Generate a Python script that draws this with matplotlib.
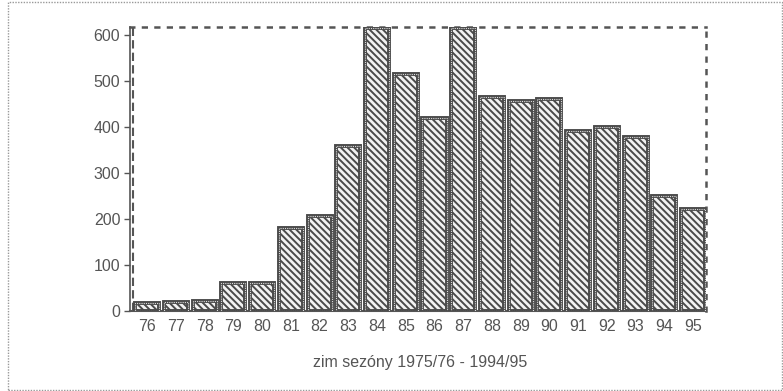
import matplotlib
matplotlib.use("Agg")
import matplotlib.pyplot as plt
from matplotlib.patches import Rectangle

plt.rcParams['font.family'] = ['Liberation Sans', 'DejaVu Sans']
plt.rcParams['hatch.linewidth'] = 1.4
plt.rcParams['hatch.color'] = '#4a4a4a'

years = ['76', '77', '78', '79', '80', '81', '82', '83', '84', '85',
         '86', '87', '88', '89', '90', '91', '92', '93', '94', '95']
values = [18, 20, 22, 60, 60, 180, 207, 360, 615, 515,
          420, 615, 465, 458, 462, 392, 400, 378, 250, 222]
yticks = [0, 100, 200, 300, 400, 500, 600]
xlabel = 'zim sezóny 1975/76 - 1994/95'

grey = '#555555'

fig = plt.figure(figsize=(7.83, 3.91), dpi=100)
ax = fig.add_axes([130/783, 1 - 311/391, 576/783, 284/391])

x = range(len(years))
ax.bar(x, values, width=0.84, color='#f2f2f2', edgecolor='#4a4a4a',
       linewidth=2.8, hatch='\\\\\\\\\\', zorder=3)
ax.bar(x, values, width=0.84, color='none', edgecolor='#dddddd',
       linewidth=0.8, linestyle=(0, (1, 1)), zorder=4)

ax.set_xlim(-0.6, 19.45)
ax.set_ylim(0, 618)
ax.set_xticks(list(x))
ax.set_xticklabels(years, fontsize=11.5, color=grey)
ax.set_yticks(yticks)
ax.set_yticklabels([str(v) for v in yticks], fontsize=11.5, color=grey)
ax.tick_params(axis='x', length=0, pad=6)
ax.tick_params(axis='y', length=4, width=1, color=grey, pad=3)

for s in ['top', 'right']:
    ax.spines[s].set_linestyle((0, (1.5, 3.5)))
    ax.spines[s].set_linewidth(1.8)
    ax.spines[s].set_color(grey)
ax.spines['left'].set_color(grey)
ax.spines['left'].set_linewidth(1.2)
ax.spines['bottom'].set_color(grey)
ax.spines['bottom'].set_linewidth(1.5)
ax.axvline(-0.5, color=grey, linestyle=(0, (4, 2)), linewidth=1.5, zorder=2)

fig.text(420/783, 1 - 362/391, xlabel, fontsize=11.5, color=grey,
         ha='center', va='center')

fig.patches.append(Rectangle((8/783, 1/391), 774/783, 388/391,
                             transform=fig.transFigure, fill=False,
                             edgecolor='#999999', linewidth=1,
                             linestyle=(0, (1, 1))))

fig.savefig('out.png', dpi=100)
